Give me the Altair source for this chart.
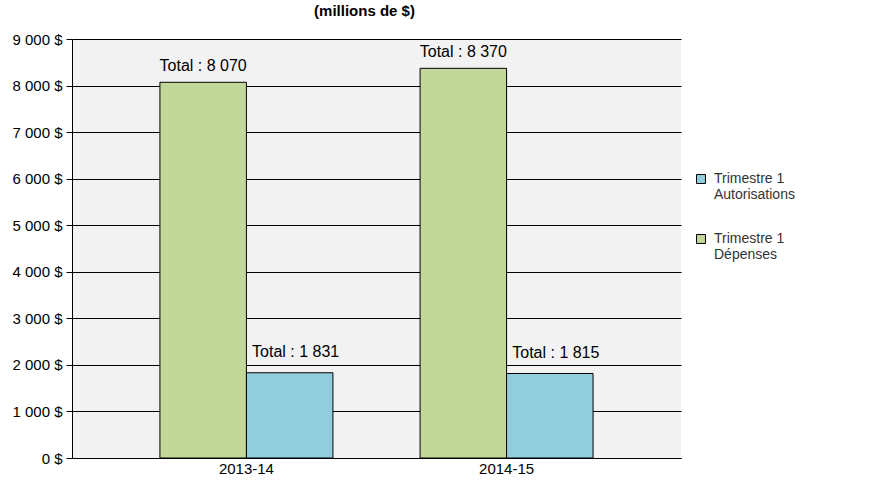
import altair as alt
import pandas as pd

years = ["2013-14", "2014-15"]
series = ["Trimestre 1\nDépenses", "Trimestre 1\nAutorisations"]
depenses = [8070, 8370]
autorisations = [1831, 1815]
labels_dep = ["Total : 8 070", "Total : 8 370"]
labels_aut = ["Total : 1 831", "Total : 1 815"]

rows = []
for i, y in enumerate(years):
    rows.append({"year": y, "series": series[0], "value": depenses[i], "label": labels_dep[i]})
    rows.append({"year": y, "series": series[1], "value": autorisations[i], "label": labels_aut[i]})
df = pd.DataFrame(rows)

legend_order = [series[1], series[0]]
bar_order = [series[0], series[1]]
colors = ["#92CDDC", "#C4D79B"]

FONT = "Liberation Sans"

x = alt.X("year:N", title=None,
          scale=alt.Scale(paddingInner=0.335, paddingOuter=0.338),
          axis=alt.Axis(labelAngle=0, labelFontSize=15, labelFont=FONT, labelColor="#000000",
                        domain=True, domainColor="#000000", ticks=False, labelPadding=3))
xo = alt.XOffset("series:N", sort=bar_order, scale=alt.Scale(paddingInner=0, paddingOuter=0))

base = alt.Chart(df)

bars = base.mark_bar(stroke="#000000", strokeWidth=1).encode(
    x=x,
    xOffset=xo,
    y=alt.Y("value:Q", title=None,
            scale=alt.Scale(domain=[0, 9000], nice=False),
            axis=alt.Axis(values=list(range(0, 9001, 1000)),
                          labelExpr="replace(format(datum.value, ','), ',', ' ') + ' $'",
                          labelFontSize=15, labelFont=FONT, labelColor="#000000",
                          grid=True, gridColor="#000000", gridOpacity=1, gridWidth=1,
                          tickColor="#000000", tickSize=6, domain=True, domainColor="#000000",
                          labelPadding=4)),
    color=alt.Color("series:N", sort=legend_order,
                    scale=alt.Scale(domain=legend_order, range=colors),
                    legend=alt.Legend(title=None, orient="none", legendX=622, legendY=133,
                                      symbolType="square", symbolSize=80,
                                      symbolStrokeColor="#000000", symbolStrokeWidth=1,
                                      labelFontSize=14, labelFont=FONT, labelColor="#333333",
                                      labelExpr="split(datum.label, '\\n')",
                                      labelLimit=200, rowPadding=30, labelOffset=6)),
)

text_dep = base.transform_filter(alt.datum.series == series[0]).mark_text(
    baseline="bottom", dy=-8, fontSize=16, font=FONT, color="#000000").encode(
    x=x, xOffset=xo, y="value:Q", text="label:N")

text_aut = base.transform_filter(alt.datum.series == series[1]).mark_text(
    baseline="bottom", dy=-13, dx=6, fontSize=16, font=FONT, color="#000000").encode(
    x=x, xOffset=xo, y="value:Q", text="label:N")

chart = (bars + text_dep + text_aut).properties(
    width=609, height=419,
    title=alt.TitleParams("(millions de $)", fontSize=15, font=FONT, fontWeight="bold",
                          anchor="middle", dx=-12, offset=13, color="#000000"),
    autosize=alt.AutoSizeParams(type="none"),
    padding={"left": 72, "top": 39, "right": 199, "bottom": 32},
).configure(background="#FFFFFF").configure_view(fill="#F2F2F2", stroke=None)

chart.save("out.html", embed_options={"renderer": "svg", "actions": False})
